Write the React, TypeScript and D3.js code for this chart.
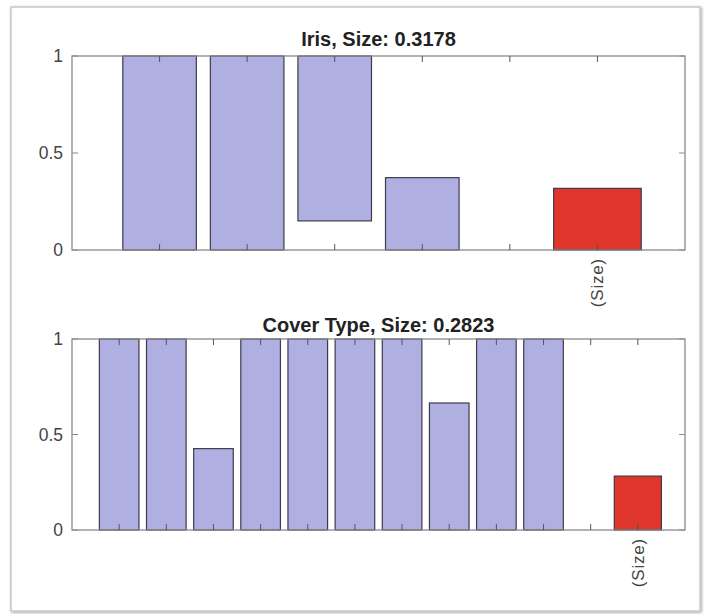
import React from "react";
import * as d3 from "d3";

const irisTitle = "Iris, Size: 0.3178";
const irisCategories = [1, 2, 3, 4, 5, 6];
const irisLow = [0, 0, 0.15, 0, null, 0];
const irisHigh = [1, 1, 1, 0.373, null, 0.3178];
const irisIsSize = [false, false, false, false, false, true];

const coverTitle = "Cover Type, Size: 0.2823";
const coverCategories = [1, 2, 3, 4, 5, 6, 7, 8, 9, 10, 11, 12];
const coverLow = [0, 0, 0, 0, 0, 0, 0, 0, 0, 0, null, 0];
const coverHigh = [1, 1, 0.426, 1, 1, 1, 1, 0.665, 1, 1, null, 0.2823];
const coverIsSize = [false, false, false, false, false, false, false, false, false, false, false, true];

const yTicks = [0, 0.5, 1];
const yTickLabels = ["0", "0.5", "1"];
const sizeLabel = "(Size)";

const FONT = "'Liberation Sans', Arial, Helvetica, sans-serif";

type PanelProps = {
  title: string;
  titleY: number;
  cats: number[];
  low: (number | null)[];
  high: (number | null)[];
  isSize: boolean[];
  top: number;
  bottom: number;
};

function Panel({ title, titleY, cats, low, high, isSize, top, bottom }: PanelProps) {
  const left = 72;
  const right = 685;
  const x = d3.scaleLinear().domain([0, cats.length + 1]).range([left, right]);
  const y = d3.scaleLinear().domain([0, 1]).range([bottom, top]);
  const unit = x(1) - x(0);
  const tickLen = 6;
  const axisColor = "#8a8a8a";
  return (
    <g>
      <rect x={left} y={top} width={right - left} height={bottom - top} fill="#fff" />
      {cats.map((c, i) => {
        const lo = low[i];
        const hi = high[i];
        if (lo === null || hi === null) return null;
        const w = (isSize[i] ? 1.0 : 0.84) * unit;
        return (
          <rect
            key={c}
            x={x(c) - w / 2}
            y={y(hi)}
            width={w}
            height={y(lo) - y(hi)}
            fill={isSize[i] ? "#E0352A" : "#AFAFE1"}
            stroke="#3c3c4c"
            strokeWidth={1.2}
          />
        );
      })}
      <rect x={left} y={top} width={right - left} height={bottom - top} fill="none" stroke={axisColor} strokeWidth={1.3} />
      {cats.map((c) => (
        <g key={"t" + c}>
          <line x1={x(c)} x2={x(c)} y1={bottom} y2={bottom - tickLen} stroke="#555" strokeWidth={1} />
          <line x1={x(c)} x2={x(c)} y1={top} y2={top + tickLen} stroke="#555" strokeWidth={1} />
        </g>
      ))}
      {yTicks.map((t, i) => (
        <g key={"y" + t}>
          <line x1={left} x2={left + tickLen} y1={y(t)} y2={y(t)} stroke={axisColor} />
          <line x1={right} x2={right - tickLen} y1={y(t)} y2={y(t)} stroke={axisColor} />
          <text x={left - 9} y={y(t)} dy="0.36em" textAnchor="end" fontFamily={FONT} fontSize={17.5} fill="#444">
            {yTickLabels[i]}
          </text>
        </g>
      ))}
      {cats.map((c, i) =>
        isSize[i] ? (
          <text
            key={"l" + c}
            transform={`translate(${x(c) + 6},${bottom + 8}) rotate(-90)`}
            textAnchor="end"
            fontFamily={FONT}
            fontSize={17}
            letterSpacing={0.8}
            fill="#444"
          >
            {sizeLabel}
          </text>
        ) : null
      )}
      <text
        x={(left + right) / 2}
        y={titleY}
        textAnchor="middle"
        fontFamily={FONT}
        fontWeight="bold"
        fontSize={20}
        fill="#222"
      >
        {title}
      </text>
    </g>
  );
}

export default function App() {
  return (
    <svg
      width={704}
      height={614}
      style={{ position: "absolute", left: 0, top: 0, background: "#fff" }}
    >
      <defs>
        <filter id="sh" x="-5%" y="-5%" width="110%" height="110%">
          <feDropShadow dx="1" dy="1" stdDeviation="1.5" floodColor="#000" floodOpacity="0.35" />
        </filter>
      </defs>
      <rect x={11} y={7} width={689} height={604} fill="#fff" stroke="#c8c8c8" strokeWidth={1.5} filter="url(#sh)" />
      <Panel title={irisTitle} titleY={46} cats={irisCategories} low={irisLow} high={irisHigh} isSize={irisIsSize} top={56} bottom={250} />
      <Panel title={coverTitle} titleY={332} cats={coverCategories} low={coverLow} high={coverHigh} isSize={coverIsSize} top={339} bottom={530} />
    </svg>
  );
}
